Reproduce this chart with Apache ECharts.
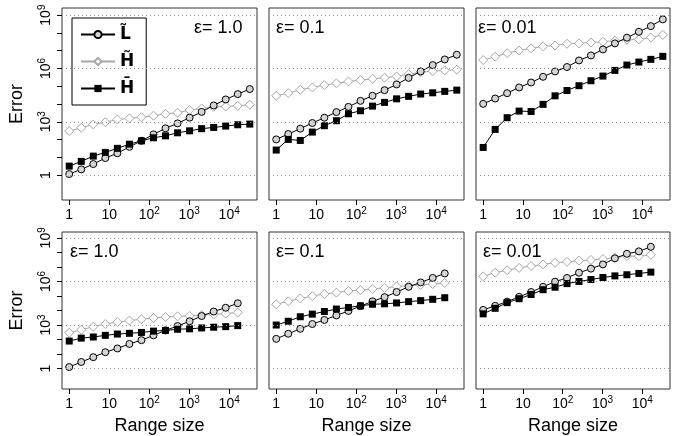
<!DOCTYPE html>
<html><head><meta charset="utf-8">
<script src="https://cdn.jsdelivr.net/npm/echarts@6/dist/echarts.min.js"></script>
<style>html,body{margin:0;padding:0;background:#fff}#c{width:686px;height:436px}</style>
</head><body><div id="c"></div>
<script>
// ---- data ----
const rangeTop = [1,2,4,8,16,32,64,128,256,512,1024,2048,4096,8192,16384,32768];
const rangeBottom = [1,2,4,8,16,32,64,128,256,512,1024,2048,4096,8192,16384];
const seriesNames = ['L\u0303', 'H\u0303', 'H\u0304'];
const epsLabels = ['\u03b5= 1.0', '\u03b5= 0.1', '\u03b5= 0.01', '\u03b5= 1.0', '\u03b5= 0.1', '\u03b5= 0.01'];
const xTickValues = [1, 10, 100, 1000, 10000];
const xTickLabels = ['1', '10', '10^2', '10^3', '10^4'];
const yTickValues = [1,10,100,1e3,1e4,1e5,1e6,1e7,1e8,1e9];
const yLabelValues = [1, 1e3, 1e6, 1e9];
const yTickLabels = ['1', '10^3', '10^6', '10^9'];
const gridLineValues = [1, 1e3, 1e6, 1e9];

// top row, eps = 1.0
const lTilde1 = [1.15,2.1,4.2,9.1,17,39,85,195,430,810,1.7e3,3.6e3,8.3e3,1.8e4,3.6e4,6.9e4];
const hTilde1 = [300,460,710,950,1.35e3,1.55e3,1.8e3,2.2e3,2.8e3,3.2e3,4.6e3,5.6e3,6.9e3,7.2e3,7.9e3,9.1e3];
const hBar1   = [3.2,5.9,11.7,19,32,55,85,126,162,240,310,410,480,575,680,740];
// top row, eps = 0.1
const lTilde2 = [102,204,410,850,1.7e3,3.5e3,6.9e3,1.5e4,2.9e4,6.0e4,1.26e5,2.95e5,6.8e5,1.55e6,3.2e6,5.9e6];
const hTilde2 = [2.88e4,4.07e4,6.31e4,8.51e4,1.15e5,1.45e5,1.86e5,2.19e5,2.63e5,3.02e5,3.55e5,4.79e5,6.17e5,7.08e5,7.76e5,8.51e5];
const hBar2   = [25.7,102,89,263,603,1150,2820,4170,7590,1.23e4,1.95e4,2.69e4,3.63e4,4.27e4,5.13e4,6.03e4];
// top row, eps = 0.01
const lTilde3 = [1.02e4,2.04e4,4.07e4,8.51e4,1.62e5,3.39e5,6.76e5,1.2e6,2.82e6,5.37e6,1.17e7,2.57e7,5.37e7,1.15e8,2.4e8,5.75e8];
const hTilde3 = [2.95e6,4.57e6,7.24e6,1.02e7,1.35e7,1.74e7,1.95e7,2.45e7,2.57e7,2.88e7,3.16e7,3.63e7,4.07e7,4.27e7,5.5e7,7.76e7];
const hBar3   = [36,372,1700,3980,3800,9550,2.88e4,5.75e4,1.07e5,2.04e5,3.72e5,7.76e5,1.55e6,2.29e6,3.24e6,4.79e6];
// bottom row, eps = 1.0
const lTilde4 = [1.29,2.88,6.17,13.5,24.5,50,91,195,427,851,1820,4170,8510,1.55e4,3.16e4];
const hTilde4 = [295,468,776,1175,1585,2040,2510,3090,3550,3980,4170,4790,5370,6170,7240];
const hBar4   = [79,126,151,195,240,269,309,380,427,513,550,631,708,776,912];
// bottom row, eps = 0.1
const lTilde5 = [112,251,550,1175,2240,4570,9330,2.0e4,4.27e4,8.3e4,1.86e5,4.27e5,8.5e5,1.74e6,3.55e6];
const hTilde5 = [2.69e4,4.27e4,6.76e4,9.77e4,1.38e5,1.7e5,2.19e5,2.51e5,3.09e5,3.63e5,4.47e5,5.13e5,5.75e5,6.61e5,7.76e5];
const hBar5   = [1000,1820,3720,5620,8510,1.26e4,1.62e4,2.09e4,2.69e4,2.88e4,3.31e4,4.07e4,4.79e4,5.89e4,7.59e4];
// bottom row, eps = 0.01
const lTilde6 = [1.1e4,2.09e4,4.07e4,8.7e4,1.86e5,4.27e5,9.55e5,1.74e6,3.98e6,7.59e6,1.48e7,3.89e7,7.94e7,1.17e8,2.4e8];
const hTilde6 = [2.24e6,3.98e6,5.89e6,8.51e6,1.15e7,1.48e7,1.91e7,2.24e7,2.69e7,3.02e7,3.47e7,4.27e7,5.5e7,5.5e7,6.76e7];
const hBar6   = [5890,1.41e4,3.47e4,6.46e4,1.26e5,2.69e5,3.98e5,7.08e5,1.0e6,1.35e6,1.86e6,2.4e6,2.88e6,3.55e6,4.37e6];

const panels = [
  {range: rangeTop, data: [lTilde1, hTilde1, hBar1]},
  {range: rangeTop, data: [lTilde2, hTilde2, hBar2]},
  {range: rangeTop, data: [lTilde3, hTilde3, hBar3]},
  {range: rangeBottom, data: [lTilde4, hTilde4, hBar4]},
  {range: rangeBottom, data: [lTilde5, hTilde5, hBar5]},
  {range: rangeBottom, data: [lTilde6, hTilde6, hBar6]}
];

// ---- layout / styles ----
const FONT = 'Liberation Sans';
const lg = Math.log10;
const colLeft = [62, 269, 476];
const colWidth = [195, 195, 194];
const rowTop = [8, 232];
const rowHeight = [192, 163];
const xMin = -0.1806, xMax = 4.696;   // R's 4% extension around [1, 32768]
const yMin = -1.4, yMax = 9.4;        // R's 4% extension around [0.1, 1e9]
const epsPos = [
  {left: 194, top: 19}, {left: 276, top: 19}, {left: 478, top: 19},
  {left: 70, top: 243}, {left: 276, top: 243}, {left: 483, top: 243}
];

function supLabel(s) {
  const m = String(s).match(/^(\d+)\^(\d+)$/);
  return m ? '{b|' + m[1] + '}{s|' + m[2] + '}' : '{b|' + s + '}';
}
const rich = {
  b: {fontSize: 14, fontFamily: FONT, color: '#000', lineHeight: 18},
  s: {fontSize: 10, fontFamily: FONT, color: '#000', lineHeight: 11, verticalAlign: 'top'}
};

const seriesStyle = [
  {symbol: 'circle', symbolSize: 7, itemStyle: {color: '#d4d4d4', borderColor: '#000', borderWidth: 1}, lineStyle: {color: '#000', width: 1}},
  {symbol: 'diamond', symbolSize: 9, itemStyle: {color: '#fff', borderColor: '#a6a6a6', borderWidth: 1}, lineStyle: {color: '#a6a6a6', width: 1}},
  {symbol: 'rect', symbolSize: 7, itemStyle: {color: '#000', borderColor: '#000', borderWidth: 0}, lineStyle: {color: '#000', width: 1}}
];

const grid = [], xAxis = [], yAxis = [], series = [], title = [];
panels.forEach((p, i) => {
  const row = Math.floor(i / 3), col = i % 3;
  grid.push({left: colLeft[col], top: rowTop[row], width: colWidth[col], height: rowHeight[row],
    show: true, borderColor: '#333', borderWidth: 1, backgroundColor: 'transparent', containLabel: false});
  const xTickExp = xTickValues.map(lg);
  xAxis.push({
    type: 'value', gridIndex: i, min: xMin, max: xMax, position: 'bottom',
    axisLine: {show: false, onZero: false},
    axisTick: {show: true, length: 5, lineStyle: {color: '#000', width: 1}, customValues: xTickExp},
    axisLabel: {show: true, margin: 6, customValues: xTickExp, rich: rich,
      formatter: v => { const k = xTickExp.findIndex(e => Math.abs(e - v) < 1e-6); return k < 0 ? '' : supLabel(xTickLabels[k]); }},
    splitLine: {show: false},
    name: row === 1 ? 'Range size' : '', nameLocation: 'middle', nameGap: 28,
    nameTextStyle: {fontSize: 18, fontFamily: FONT, color: '#000'}
  });
  const yTickExp = yTickValues.map(lg);
  const yLabExp = yLabelValues.map(lg);
  yAxis.push({
    type: 'value', gridIndex: i, min: yMin, max: yMax, position: 'left',
    axisLine: {show: false, onZero: false},
    axisTick: {show: col === 0, length: 5, lineStyle: {color: '#000', width: 1}, customValues: yTickExp},
    axisLabel: {show: col === 0, rotate: 90, margin: 7, customValues: yLabExp, rich: rich,
      formatter: v => { const k = yLabExp.findIndex(e => Math.abs(e - v) < 1e-6); return k < 0 ? '' : supLabel(yTickLabels[k]); }},
    splitLine: {show: false},
    name: col === 0 ? 'Error' : '', nameLocation: 'middle', nameGap: 36, nameRotate: 90,
    nameTextStyle: {fontSize: 18, fontFamily: FONT, color: '#000'}
  });
  p.data.forEach((vals, s) => {
    const st = seriesStyle[s];
    const ser = {
      type: 'line', name: seriesNames[s], xAxisIndex: i, yAxisIndex: i,
      data: p.range.map((r, k) => [lg(r), lg(vals[k])]),
      symbol: st.symbol, symbolSize: st.symbolSize, showSymbol: true,
      itemStyle: st.itemStyle, lineStyle: st.lineStyle,
      emphasis: {disabled: true}, animation: false, z: 3 + (s === 1 ? 0 : 1), clip: false
    };
    if (s === 0) {
      ser.markLine = {
        silent: true, symbol: ['none', 'none'], label: {show: false}, animation: false,
        lineStyle: {type: [1, 3], color: '#9a9a9a', width: 1},
        data: gridLineValues.map(v => ({yAxis: lg(v)}))
      };
    }
    series.push(ser);
  });
  title.push({text: epsLabels[i], left: epsPos[i].left, top: epsPos[i].top, padding: 0,
    textStyle: {fontSize: 18, fontWeight: 'normal', fontFamily: FONT, color: '#000'}});
});

const chart = echarts.init(document.getElementById('c'), null, {renderer: 'canvas'});
chart.setOption({
  animation: false,
  title: title,
  grid: grid, xAxis: xAxis, yAxis: yAxis, series: series,
  legend: {
    show: true, orient: 'vertical', left: 72, top: 18, selectedMode: false,
    data: seriesNames, itemWidth: 34, itemHeight: 9, itemGap: 10,
    padding: [8, 12, 8, 8], borderColor: '#000', borderWidth: 1, backgroundColor: '#fff',
    textStyle: {fontSize: 17, fontWeight: 'bold', fontFamily: 'DejaVu Sans', color: '#000'}
  }
});
</script></body></html>
